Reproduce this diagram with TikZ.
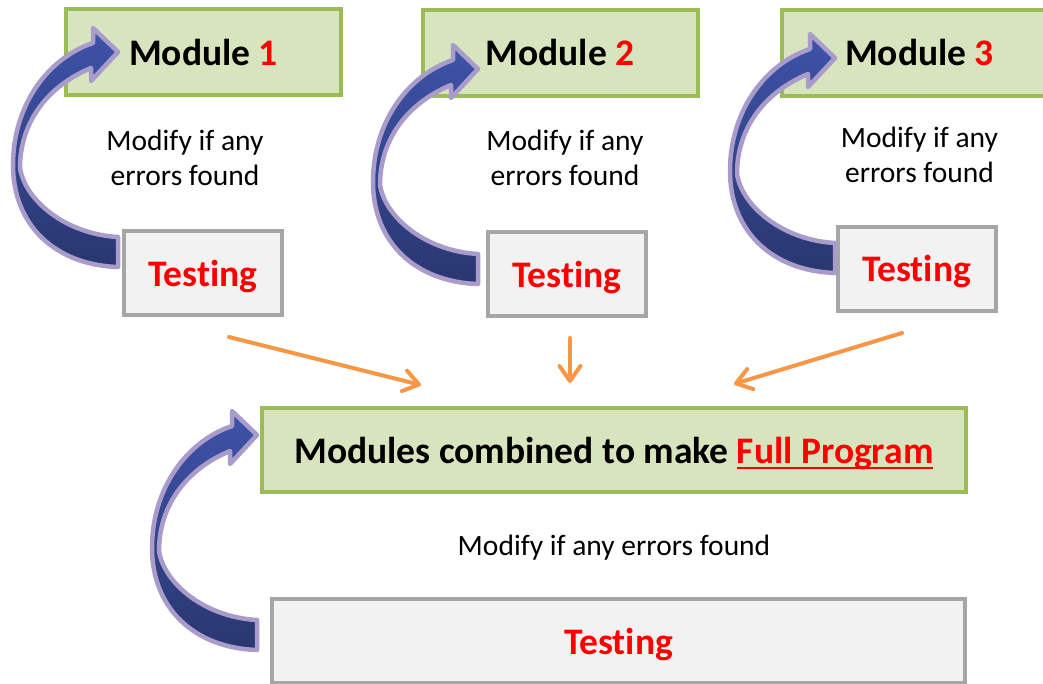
\documentclass[tikz,border=0pt]{standalone}
\usepackage{fontspec}
\setmainfont{Carlito}[Ligatures=NoCommon]
\usetikzlibrary{arrows.meta}
\definecolor{grnb}{HTML}{9BBB59}
\definecolor{grnf}{HTML}{D7E4BD}
\definecolor{gryb}{HTML}{A6A6A6}
\definecolor{gryf}{HTML}{F2F2F2}
\definecolor{orng}{HTML}{F79646}
\definecolor{lav}{HTML}{A99CCB}
\definecolor{bluetop}{HTML}{3E53A9}
\definecolor{bluebot}{HTML}{29376F}
\definecolor{myred}{HTML}{FF0000}
\newcommand\ulfp[1]{\setbox0=\hbox{#1}\rlap{\rule[-6pt]{\wd0}{2.5pt}}\box0}
\newcommand\loopshape[2]{%
  \begin{scope}[shift={(#1,#2)}]
    \path[loopstyle] (118,267)
      .. controls (55,265) and (13,225) .. (13,165)
      .. controls (13,105) and (48,58) .. (93,43)
      -- (93,28) -- (118,52) -- (91,81) -- (91,68)
      .. controls (50,85) and (20,120) .. (20,168)
      .. controls (25,200) and (65,234) .. (118,237)
      -- cycle;
  \end{scope}}
\tikzset{
  loopstyle/.style={draw=lav, line width=4.5pt, line join=round,
    top color=bluetop, bottom color=bluebot},
  modbox/.style={draw=grnb, fill=grnf, line width=4pt, inner sep=0pt,
    minimum width=275pt, minimum height=86pt, text depth=0pt,
    font=\fontsize{37.5}{40}\selectfont\bfseries},
  bigbox/.style={modbox, minimum width=704pt, minimum height=84pt},
  testbox/.style={draw=gryb, fill=gryf, line width=4pt, inner sep=0pt,
    minimum width=158pt, minimum height=84pt, text depth=0pt,
    text=myred, font=\fontsize{37.5}{40}\selectfont\bfseries},
  bigtest/.style={testbox, minimum width=693pt},
  note/.style={align=center, inner sep=0pt,
    font=\fontsize{29.5}{35}\selectfont},
  orangeline/.style={draw=orng, line width=4pt, line cap=round,
    -{Straight Barb[length=15pt,width=21pt,line cap=round,line join=round]}}
}
\begin{document}
\begin{tikzpicture}[x=1pt,y=-1pt]
\useasboundingbox (0,0) rectangle (1043,683);
% boxes
\node[modbox] (m1) at (203.5,52) {Module \textcolor{myred}{1}};
\node[modbox] (m2) at (560,52.5) {Module \textcolor{myred}{2}};
\node[modbox] (m3) at (919.5,52.5) {Module \textcolor{myred}{3}};
\node[testbox] (t1) at (203,273) {Testing};
\node[testbox] (t2) at (567,274) {Testing};
\node[testbox] (t3) at (916.5,268.5) {Testing};
\node[bigbox] (full) at (614,450) {Modules combined to make \textcolor{myred}{\ulfp{Full Program}}};
\node[bigtest] (tf) at (618.5,641) {Testing};
% notes
\node[note] (n1) at (185,158) {Modify if any\\errors found};
\node[note] (n2) at (565,158) {Modify if any\\errors found};
\node[note] (n3) at (919.5,155) {Modify if any\\errors found};
\node[note] (n4) at (614,548) {Modify if any errors found};
% curved loop arrows
\loopshape{0}{0}
\loopshape{360}{17}
\loopshape{717}{6}
\loopshape{139}{383}
% orange connectors
\coordinate (a1s) at (229,337); \coordinate (a1e) at (421,385);
\coordinate (a2s) at (570,338); \coordinate (a2e) at (570,383);
\coordinate (a3s) at (902,333); \coordinate (a3e) at (734,384);
\draw[orangeline] (a1s) -- (a1e);
\draw[orangeline] (a2s) -- (a2e);
\draw[orangeline] (a3s) -- (a3e);
\end{tikzpicture}
\end{document}
